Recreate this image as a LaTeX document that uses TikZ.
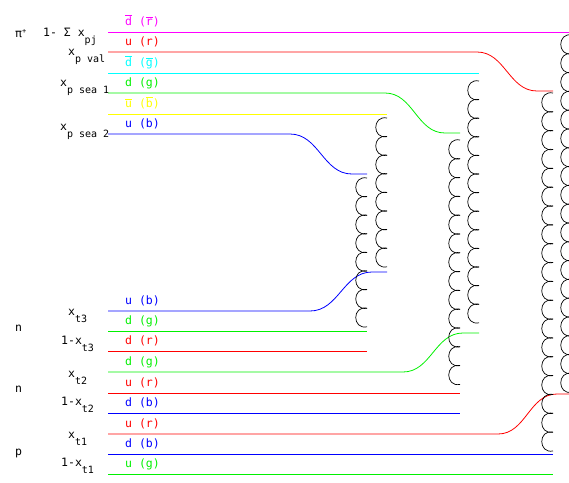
\documentclass[tikz,border=0pt]{standalone}
\usepackage{fontspec}
\setmonofont{DejaVu Sans Mono}
\definecolor{qmagenta}{RGB}{255,0,255}
\definecolor{qred}{RGB}{255,0,0}
\definecolor{qcyan}{RGB}{0,255,255}
\definecolor{qgreen}{RGB}{0,240,0}
\definecolor{qyellow}{RGB}{255,255,0}
\definecolor{qblue}{RGB}{0,0,255}
\newcommand{\ov}[1]{$\overline{\mbox{#1}}$}
\newcommand{\lo}[1]{\raisebox{-7.5pt}{\fontsize{10}{12}\selectfont #1}}

\begin{document}
\begin{tikzpicture}[x=1pt, y=-1pt,
  quark/.style={line width=0.8pt},
  gluon/.style={black, line width=0.7pt},
  lbl/.style={anchor=base west, inner sep=0pt, font=\ttfamily\fontsize{11.5}{13}\selectfont}]
\useasboundingbox (0,0) rectangle (569,482);
% hadron labels
\node[lbl] (pi) at (15,37) {π\raisebox{4pt}{\scriptsize +}};
\node[lbl] (xpj) at (43,36) {1- Σ x\lo{pj}};
\node[lbl] (xval) at (68,55) {x\lo{p val}};
\node[lbl] (xsea1) at (60,86) {x\lo{p sea 1}};
\node[lbl] (xsea2) at (60,130) {x\lo{p sea 2}};
\node[lbl] (xt3) at (68,315) {x\lo{t3}};
\node[lbl] (n3) at (15,331) {n};
\node[lbl] (yt3) at (61,344) {1-x\lo{t3}};
\node[lbl] (xt2) at (68,377) {x\lo{t2}};
\node[lbl] (n2) at (15,392) {n};
\node[lbl] (yt2) at (61,405) {1-x\lo{t2}};
\node[lbl] (xt1) at (68,438) {x\lo{t1}};
\node[lbl] (p1) at (15,455) {p};
\node[lbl] (yt1) at (61,466) {1-x\lo{t1}};
% quark labels
\node[lbl, text=qmagenta] (q1) at (125,25) {\ov{d} (\ov{r})};
\node[lbl, text=qred] (q2) at (125,45) {u (r)};
\node[lbl, text=qcyan] (q3) at (125,66) {\ov{d} (\ov{g})};
\node[lbl, text=qgreen] (q4) at (125,86) {d (g)};
\node[lbl, text=qyellow] (q5) at (125,107) {\ov{u} (\ov{b})};
\node[lbl, text=qblue] (q6) at (125,127) {u (b)};
\node[lbl, text=qblue] (q7) at (125,304) {u (b)};
\node[lbl, text=qgreen] (q8) at (125,324) {d (g)};
\node[lbl, text=qred] (q9) at (125,344) {d (r)};
\node[lbl, text=qgreen] (q10) at (125,365) {d (g)};
\node[lbl, text=qred] (q11) at (125,386) {u (r)};
\node[lbl, text=qblue] (q12) at (125,406) {d (b)};
\node[lbl, text=qred] (q13) at (125,427) {u (r)};
\node[lbl, text=qblue] (q14) at (125,447) {d (b)};
\node[lbl, text=qgreen] (q15) at (125,467) {u (g)};
% line ends
\coordinate (a1) at (108,32);  \coordinate (b1) at (572,32);
\coordinate (a2) at (108,52);  \coordinate (c2) at (477,52);
\coordinate (d2) at (537,91);  \coordinate (b2) at (553,91);
\coordinate (a3) at (108,73);  \coordinate (b3) at (479,73);
\coordinate (a4) at (108,93);  \coordinate (c4) at (385,93);
\coordinate (d4) at (445,133); \coordinate (b4) at (460,133);
\coordinate (a5) at (108,114); \coordinate (b5) at (387,114);
\coordinate (a6) at (108,134); \coordinate (c6) at (290,134);
\coordinate (d6) at (352,174); \coordinate (b6) at (367,174);
\coordinate (a7) at (108,311); \coordinate (c7) at (310,311);
\coordinate (d7) at (372,272); \coordinate (b7) at (387,272);
\coordinate (a8) at (108,331); \coordinate (b8) at (367,331);
\coordinate (a9) at (108,351); \coordinate (b9) at (367,351);
\coordinate (a10) at (108,372); \coordinate (c10) at (403,372);
\coordinate (d10) at (463,333); \coordinate (b10) at (479,333);
\coordinate (a11) at (108,393); \coordinate (b11) at (460,393);
\coordinate (a12) at (108,413); \coordinate (b12) at (460,413);
\coordinate (a13) at (108,434); \coordinate (c13) at (498,434);
\coordinate (d13) at (557,394); \coordinate (b13) at (572,394);
\coordinate (a14) at (108,454); \coordinate (b14) at (553,454);
\coordinate (a15) at (108,474); \coordinate (b15) at (553,474);
% quark lines
\draw[quark, qmagenta] (a1) -- (b1);
\draw[quark, qred] (a2) -- (c2) to[out=0, in=180] (d2) -- (b2);
\draw[quark, qcyan] (a3) -- (b3);
\draw[quark, qgreen] (a4) -- (c4) to[out=0, in=180] (d4) -- (b4);
\draw[quark, qyellow] (a5) -- (b5);
\draw[quark, qblue] (a6) -- (c6) to[out=0, in=180] (d6) -- (b6);
\draw[quark, qblue] (a7) -- (c7) to[out=0, in=180] (d7) -- (b7);
\draw[quark, qgreen] (a8) -- (b8);
\draw[quark, qred] (a9) -- (b9);
\draw[quark, qgreen] (a10) -- (c10) to[out=0, in=180] (d10) -- (b10);
\draw[quark, qred] (a11) -- (b11);
\draw[quark, qblue] (a12) -- (b12);
\draw[quark, qred] (a13) -- (c13) to[out=0, in=180] (d13) -- (b13);
\draw[quark, qblue] (a14) -- (b14);
\draw[quark, qgreen] (a15) -- (b15);
% gluon columns: right edge / top / loops / loop height
\foreach \xr/\ya/\n/\h in {367/178/8/18.6, 387/118/8/18.6, 460/140/13/18.8,
                           479/81/13/18.6, 553/93/19/18.84, 572/35/19/18.8}{
  \foreach \i in {1,...,\n}{
    \draw[gluon] (\xr,{\ya+(\i-1)*\h}) .. controls ({\xr-15},{\ya+(\i-1)*\h-3})
      and ({\xr-15},{\ya+\i*\h+3}) .. (\xr,{\ya+\i*\h});
  }
}
\end{tikzpicture}
\end{document}
